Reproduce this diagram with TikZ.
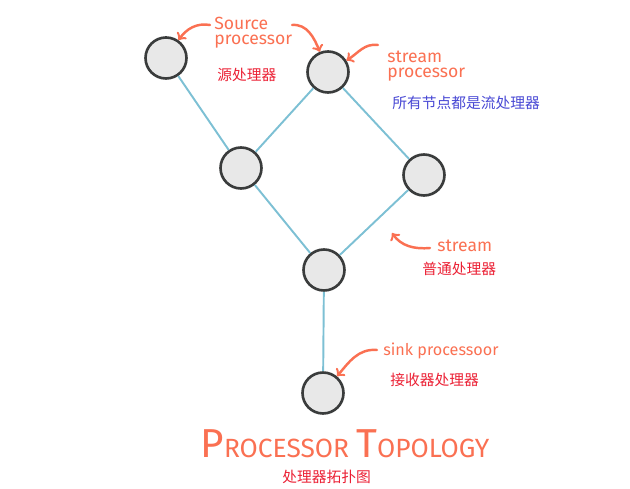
\documentclass[tikz,border=0pt]{standalone}
\usepackage{fontspec}
\setmainfont{Fira Sans}
\newfontfamily\cjk{Noto Sans CJK SC}
\definecolor{hand}{RGB}{250,112,82}
\definecolor{cnred}{RGB}{235,32,52}
\definecolor{cnblue}{RGB}{72,72,212}
\definecolor{wire}{RGB}{125,192,212}
\definecolor{ring}{RGB}{58,60,60}
\definecolor{disk}{RGB}{232,232,232}

\tikzset{
  proc/.style={circle, draw=ring, fill=disk, line width=1.5pt, minimum size=0.82cm, inner sep=0pt},
  link/.style={wire, line width=1.1pt},
  note/.style={hand, font=\fontsize{10}{8.6}\selectfont, align=left, inner sep=0pt},
  cnnote/.style={cnred, font=\cjk\fontsize{8.4}{10}\selectfont, inner sep=0pt},
  pointer/.style={hand, line width=1.4pt, line cap=round, ->},
}

\begin{document}
\begin{tikzpicture}[x=0.02cm, y=0.02cm]
\useasboundingbox (0,0) rectangle (630,-489);

\node[proc] (src) at (166,-58) {};
\node[proc] (top) at (328,-72) {};
\node[proc] (left) at (241,-168) {};
\node[proc] (right) at (424,-175) {};
\node[proc] (mid) at (324,-270) {};
\node[proc] (sink) at (323,-393) {};

\draw[link] (src) -- (left);
\draw[link] (top) -- (left);
\draw[link] (top) -- (right);
\draw[link] (left) -- (mid);
\draw[link] (right) -- (mid);
\draw[link] (mid) -- (sink);

% labels
\node[note, anchor=north west] (srcnote) at (214,-17) {Source\\processor};
\node[cnnote, anchor=west] (srccn) at (217,-75) {源处理器};
\node[note, anchor=north west] (topnote) at (387,-51) {stream\\processor};
\node[cnnote, anchor=west, cnblue] (topcn) at (392,-103) {所有节点都是流处理器};
\node[note, anchor=west] (midnote) at (437,-246) {stream};
\node[cnnote, anchor=west] (midcn) at (422,-269) {普通处理器};
\node[note, anchor=west, font=\fontsize{9.2}{10}\selectfont] (sinknote) at (383,-351) {sink processoor};
\node[cnnote, anchor=west] (sinkcn) at (390,-380) {接收器处理器};
\node[hand, anchor=base] (title) at (345,-458)
  {\fontsize{23}{23}\selectfont P\fontsize{15}{15}\selectfont ROCESSOR\ \fontsize{23}{23}\selectfont T\fontsize{15}{15}\selectfont OPOLOGY};
\node[cnnote, anchor=west] (titlecn) at (282,-477) {处理器拓扑图};

% pointers
\coordinate (srctail) at (210,-25);
\coordinate (toptail) at (292,-25);
\coordinate (streamtail) at (378,-45);
\coordinate (midtail) at (430,-248);
\coordinate (midtip) at (392,-233);
\coordinate (sinktail) at (377,-350);
\draw[pointer] (srctail) to[out=170, in=55] (src);
\draw[pointer] (toptail) to[out=5, in=112] (top);
\draw[pointer] (streamtail) to[out=172, in=32] (top);
\draw[pointer] (midtail) to[out=185, in=-55] (midtip);
\draw[pointer] (sinktail) to[out=175, in=50] (sink);
\end{tikzpicture}
\end{document}
